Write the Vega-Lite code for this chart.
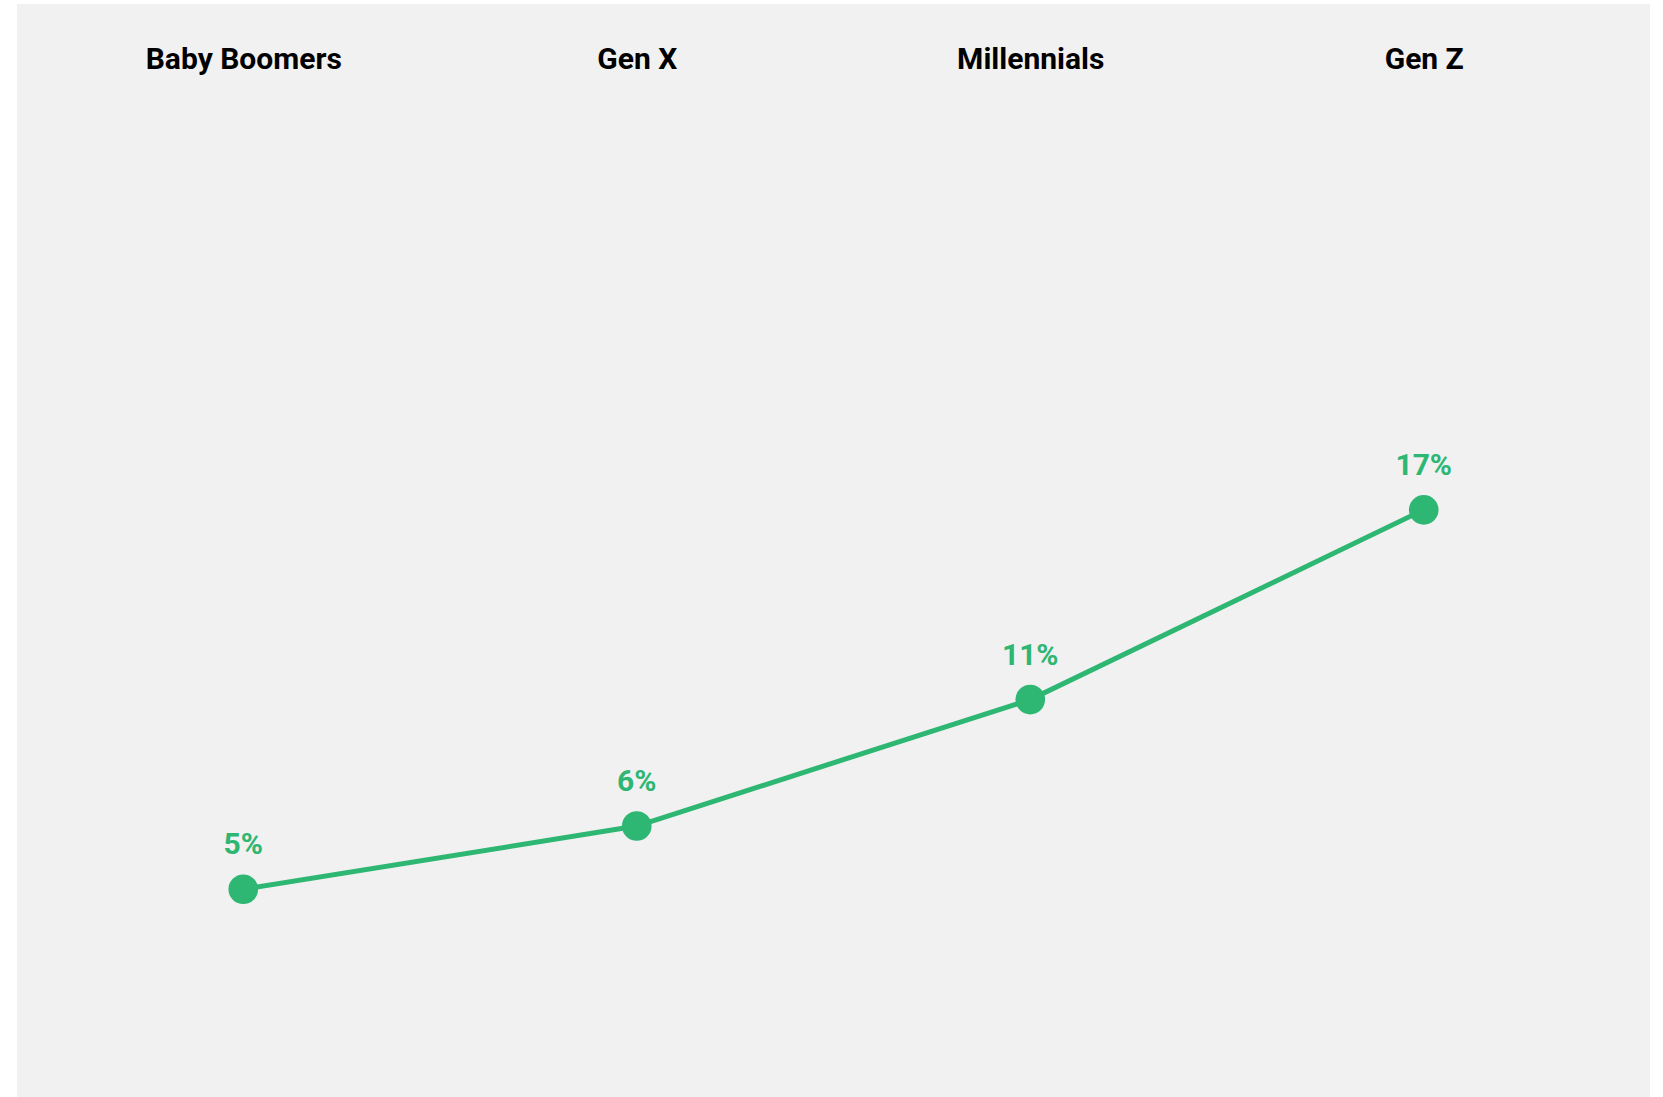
{
  "$schema": "https://vega.github.io/schema/vega-lite/v6.json",
  "width": 1663,
  "height": 1097,
  "autosize": {"type": "fit", "contains": "padding"},
  "padding": {"left": 17, "top": 4, "right": 13, "bottom": 0},
  "background": "#ffffff",
  "config": {
    "view": {"fill": "#f1f1f1", "stroke": null},
    "font": "Roboto"
  },
  "data": {
    "values": [
      {"generation": "Baby Boomers", "value": 5.0, "label": "5%"},
      {"generation": "Gen X", "value": 7.0, "label": "6%"},
      {"generation": "Millennials", "value": 11.0, "label": "11%"},
      {"generation": "Gen Z", "value": 17.0, "label": "17%"}
    ]
  },
  "encoding": {
    "x": {
      "field": "generation",
      "type": "ordinal",
      "sort": null,
      "scale": {"type": "point", "padding": 0.575},
      "axis": {
        "orient": "top",
        "title": null,
        "domain": false,
        "ticks": false,
        "grid": false,
        "labelAngle": 0,
        "labelPadding": 0,
        "labelLimit": 0,
        "offset": -55,
        "labelBaseline": "middle",
        "labelFont": "Roboto",
        "labelFontWeight": "bold",
        "labelFontSize": 30,
        "labelColor": "#000000"
      }
    },
    "y": {
      "field": "value",
      "type": "quantitative",
      "scale": {"domain": [-1.57, 33.0], "nice": false, "zero": false},
      "axis": null
    }
  },
  "layer": [
    {"mark": {"type": "line", "color": "#2eb673", "strokeWidth": 5}},
    {"mark": {"type": "circle", "color": "#2eb673", "opacity": 1, "size": 880}},
    {
      "mark": {
        "type": "text",
        "color": "#2eb673",
        "font": "Roboto",
        "fontWeight": "bold",
        "fontSize": 30,
        "baseline": "alphabetic",
        "dy": -35
      },
      "encoding": {"text": {"field": "label"}}
    }
  ]
}
